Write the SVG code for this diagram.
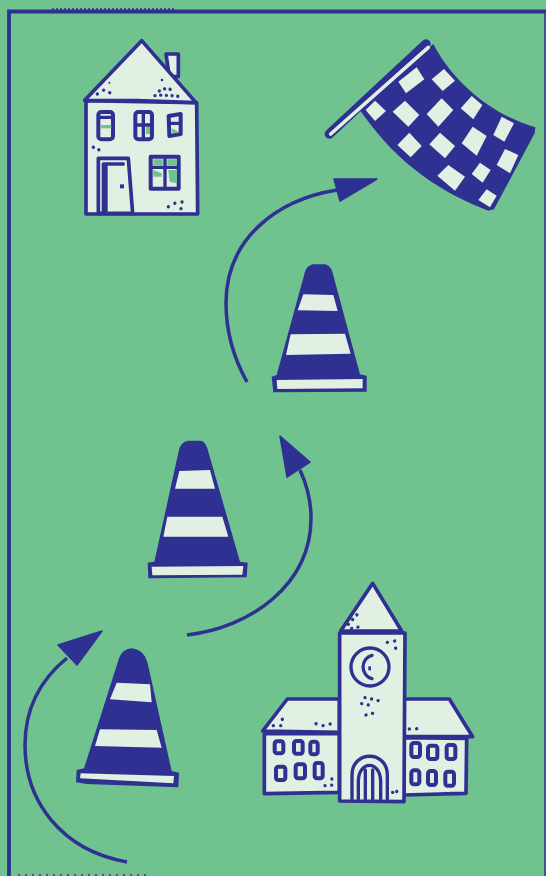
<svg xmlns="http://www.w3.org/2000/svg" width="546" height="876" viewBox="0 0 546 876">
<style>
.ink{fill:#2e3192}
.paper{fill:#e2efe3}
.ol{fill:#e2efe3;stroke:#2e3192;stroke-width:11;stroke-linejoin:round}
.ln{fill:none;stroke:#2e3192;stroke-width:10;stroke-linejoin:round;stroke-linecap:round}
.win{fill:#e2efe3;stroke:#2e3192;stroke-width:12;stroke-linejoin:round}
.gr{fill:#70c28f}
.dots{fill:none;stroke:#2e3192;stroke-width:10;stroke-linecap:round}
.conn{fill:none;stroke:#2e3192;stroke-width:3.500;stroke-linecap:butt}
.head{fill:#2e3192;stroke:#2e3192;stroke-width:1.500;stroke-linejoin:round}
</style>
<rect width="546" height="876" fill="#70c28f"/>
<g id="frame">
<path d="M9 876V11.500H546" fill="none" stroke="#2e3192" stroke-width="3.800"/>
<path d="M545 11V876" fill="none" stroke="#2e3192" stroke-width="1.500"/>
<path d="M52 9H175" fill="none" stroke="#2e3192" stroke-width="1.500" stroke-dasharray="2 2"/>
<path d="M18 875H150" fill="none" stroke="#2e3192" stroke-width="1.500" stroke-dasharray="2 5"/>
</g>
<g id="house" transform="translate(70 30) scale(.33333)">
<path class="ol" d="M288 72H325V140H298Z"/>
<path class="ol" d="M48 212V552H383L380 218Z"/>
<path class="ol" d="M215 32L378 218L200 212L44 211Z"/>
<rect class="win" x="85" y="246" width="44" height="82" rx="9"/>
<path class="gr" d="M92 285h32v10h-32z"/>
<path class="ln" d="M91 262H122"/>
<rect class="win" x="196" y="246" width="50" height="82" rx="9"/>
<path class="gr" d="M228 290h12v22h-12z"/>
<path class="ln" d="M220 250V325M200 285H242"/>
<path class="win" d="M296 258L332 252V312L298 318Z"/>
<path class="gr" d="M305 295L326 305L306 312Z"/>
<path class="ln" d="M300 280H328"/>
<path class="ol" d="M85 385H175L188 550H85Z"/>
<path class="ln" d="M100 548V402H160M108 402V548"/>
<rect class="ink" x="150" y="463" width="12" height="12"/>
<rect class="win" x="242" y="380" width="84" height="96"/>
<path class="gr" d="M250 388h28v18h-28zM292 388h28v18h-28zM250 420l25 10v10h-25zM295 420h26v40l-22-5z"/>
<path class="ln" d="M285 382V474M244 412H324"/>
<path class="dots" stroke-dasharray=".1 18" d="M70 352L92 362"/>
<path class="dots" stroke-dasharray=".1 22" d="M295 530L318 518L346 515"/>
<path class="dots" stroke-dasharray=".1 17" d="M255 197L275 195L305 197L335 200M268 183L288 175L310 180"/>
<path class="dots" stroke-dasharray=".1 22" d="M82 192L105 178L122 190"/>
<circle class="ink" cx="118" cy="158" r="3"/><circle class="ink" cx="276" cy="150" r="4"/><circle class="ink" cx="333" cy="536" r="5"/><circle class="ink" cx="98" cy="214" r="3"/>
</g>
<g id="flag" transform="translate(310 30) scale(.33333)">
<path class="ink" d="M370 42C420 140 530 250 676 292L674 310L552 538L535 542C400 490 270 410 158 252L140 225Z"/>
<path d="M348 42L58 312" fill="none" stroke="#2e3192" stroke-width="28" stroke-linecap="round"/>
<path d="M355 52L62 312" fill="none" stroke="#e2efe3" stroke-width="11" stroke-linecap="round"/>
<g class="paper">
<polygon points="265,155 320,112 343,148 288,190"/>
<polygon points="365,148 402,117 435,152 398,183"/>
<polygon points="167,240 195,212 228,243 195,273"/>
<polygon points="248,245 285,212 328,255 295,290"/>
<polygon points="350,252 395,205 430,240 385,290"/>
<polygon points="452,235 485,198 517,225 490,268"/>
<polygon points="550,315 575,260 612,280 583,335"/>
<polygon points="262,345 298,308 335,348 302,382"/>
<polygon points="358,343 390,308 435,348 405,385"/>
<polygon points="455,340 488,290 530,318 500,377"/>
<polygon points="560,405 585,357 625,375 600,430"/>
<polygon points="382,437 415,405 465,440 435,482"/>
<polygon points="485,432 510,398 542,420 518,458"/>
<polygon points="505,510 530,478 560,497 540,532"/>
</g>
</g>
<g id="cone-top" transform="translate(260 255) scale(.33333)">
<path class="ink" d="M135 50Q142 30 160 28H195Q210 30 217 50L300 358L320 362V410L40 412L35 365L50 360Z"/>
<g class="paper">
<polygon points="130,118 220,120 233,168 113,166"/>
<polygon points="92,238 255,236 272,296 78,300"/>
<polygon points="50,375 308,372 308,400 52,402"/>
</g>
</g>
<g id="cone-middle" transform="translate(135 430) scale(.33333)">
<path class="ink" d="M133 55Q140 35 160 32H195Q210 33 217 55L315 395L338 398L335 442L40 445L38 398L58 395Z"/>
<g class="paper">
<polygon points="133,123 225,120 240,176 120,176"/>
<polygon points="97,260 262,260 280,320 85,320"/>
<polygon points="50,410 325,408 322,434 52,436"/>
</g>
</g>
<g id="cone-bottom" transform="translate(60 640) scale(.33333)">
<path class="ink" d="M177 55Q185 28 215 25Q250 28 262 65L335 393L357 398L355 442L80 432L48 427L50 390L72 385Z"/>
<g class="paper">
<polygon points="170,128 270,133 275,187 150,178"/>
<polygon points="120,268 290,270 305,323 105,318"/>
<polygon points="62,400 342,408 340,430 60,415"/>
</g>
</g>
<g id="school" transform="translate(250 575) scale(.33333)">
<path class="ol" d="M38 468L112 372H268V472Z"/>
<path class="ol" d="M43 476H268V652L43 656Z"/>
<path class="ol" d="M462 372H598L668 485H462Z"/>
<path class="ol" d="M462 488L650 490L648 655L462 660Z"/>
<path class="ol" d="M368 25L455 168H272Z"/>
<path class="ol" d="M269 174H465L462 680L269 678Z"/>
<circle cx="360" cy="276" r="57" fill="none" stroke="#2e3192" stroke-width="10"/>
<path class="ln" d="M366 241A35 36 0 0 0 366 311"/>
<rect class="ink" x="355" y="274" width="8" height="12"/>
<path class="ln" d="M306 672V600C306 525 412 525 412 600V672"/>
<path class="ln" d="M325 672V620C325 555 392 555 392 620V672M346 672V585M368 672V585"/>
<g class="win">
<rect x="74" y="499" width="26" height="36" rx="7"/><rect x="132" y="498" width="26" height="38" rx="7"/><rect x="181" y="500" width="22" height="38" rx="7"/>
<rect x="78" y="575" width="28" height="40" rx="7"/><rect x="137" y="568" width="28" height="42" rx="7"/><rect x="194" y="564" width="24" height="46" rx="7"/>
<rect x="484" y="504" width="26" height="42" rx="8"/><rect x="534" y="512" width="28" height="40" rx="7"/><rect x="590" y="510" width="26" height="42" rx="7"/>
<rect x="484" y="586" width="24" height="42" rx="8"/><rect x="534" y="588" width="24" height="42" rx="8"/><rect x="586" y="590" width="26" height="42" rx="7"/>
</g>
<path class="dots" stroke-dasharray=".1 19" d="M295 148L322 118M305 160L330 155"/>
<path class="dots" stroke-dasharray=".1 22" d="M412 202L434 198L437 220"/>
<path class="dots" stroke-dasharray=".1 20" d="M345 368L365 372L388 378M335 386L355 390M348 420L372 414"/>
<path class="dots" stroke-dasharray=".1 22" d="M198 446L218 452L240 448L248 428"/>
<path class="dots" stroke-dasharray=".1 22" d="M70 452L95 452L97 432"/>
<path class="dots" stroke-dasharray=".1 22" d="M478 462L498 462L520 455"/>
<path class="dots" stroke-dasharray=".1 18" d="M585 655L603 655L618 658L620 642"/>
<path class="dots" stroke-dasharray=".1 20" d="M225 632L247 630L245 602"/>
<path class="dots" stroke-dasharray=".1 20" d="M428 652L442 655L436 634"/>
</g>
<g id="connectors">
<path class="conn" d="M127 862C60 850 25 800 25 745C25 710 40 680 67 658"/>
<polygon class="head" points="102,631 58,645 77,665"/>
<path class="conn" d="M187 635C250 628 311 585 311 518C311 500 306 483 300 470"/>
<polygon class="head" points="280,436 310,462 287,477"/>
<path class="conn" d="M247 382C232 355 226 330 226 303C226 240 275 200 337 190"/>
<polygon class="head" points="377,179 334,179 340,201"/>
</g>
</svg>
